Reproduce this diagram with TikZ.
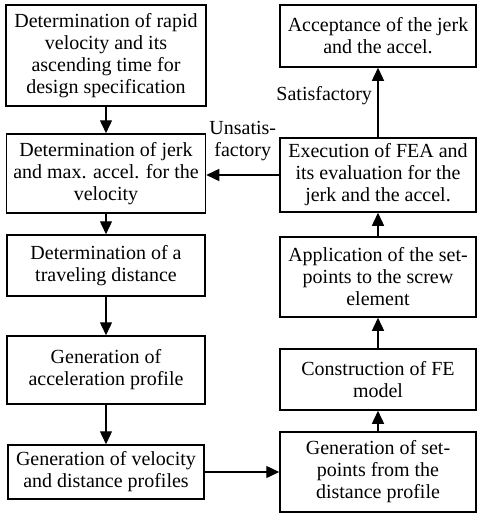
\documentclass[tikz,border=0pt]{standalone}
\usepackage{fontspec}
\setmainfont{Liberation Serif}
\usetikzlibrary{arrows.meta,positioning}

\begin{document}
\begin{tikzpicture}[x=1pt,y=-1pt,font=\fontsize{20}{22}\selectfont,
  box/.style={draw,line width=1.5pt,align=center,inner sep=0pt},
  flow/.style={-{Triangle[length=13pt,width=12pt]},line width=1.4pt}]
  \useasboundingbox (0,0) rectangle (478,514);
  \foreach \nm/\x/\y/\w/\h/\txt in {
    spec/106/55.5/200/101/{Determination of rapid\\velocity and its\\ascending time for\\design specification},
    jerk/106/173.5/199/79/{Determination of jerk\\and max. accel. for the\\velocity},
    dist/106/265.5/198/61/{Determination of a\\traveling distance},
    accel/106/370/198/68/{Generation of\\acceleration profile},
    velo/106/472/196/54/{Generation of velocity\\and distance profiles},
    accept/378/36/196/62/{Acceptance of the jerk\\and the accel.},
    fea/378/175/196/74/{Execution of FEA and\\its evaluation for the\\jerk and the accel.},
    apply/378/277/196/80/{Application of the set-\\points to the screw\\element},
    femodel/378/379.5/196/61/{Construction of FE\\model},
    setpt/378/472/196/80/{Generation of set-\\points from the\\distance profile}} {
    \node[box,minimum width=\w pt,minimum height=\h pt] (\nm) at (\x,\y) {\txt};
  }
  \draw[flow] (spec) -- (jerk);
  \draw[flow] (jerk) -- (dist);
  \draw[flow] (dist) -- (accel);
  \draw[flow] (accel) -- (velo);
  \draw[flow] (velo) -- (setpt);
  \draw[flow] (setpt) -- (femodel);
  \draw[flow] (femodel) -- (apply);
  \draw[flow] (apply) -- (fea);
  \draw[flow] (fea) -- node[pos=0.6,left=2pt] {Satisfactory} (accept);
  \draw[flow] (fea.west) -- node[above=12pt,align=center,inner sep=1pt] {Unsatis-\\factory} (fea.west -| jerk.east);
\end{tikzpicture}
\end{document}
